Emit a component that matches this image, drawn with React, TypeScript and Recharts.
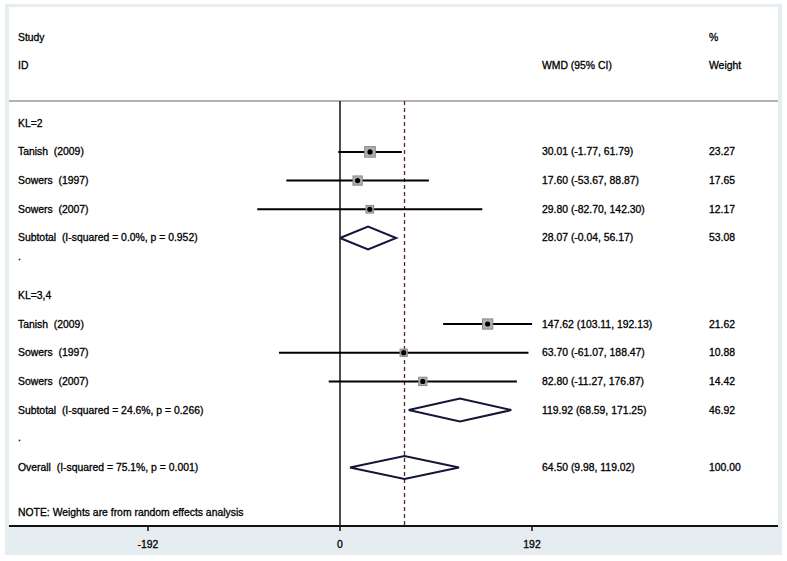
import React from 'react';
import { ComposedChart, Scatter, XAxis, YAxis, ReferenceLine } from 'recharts';

// study rows
const studyNames = ['Tanish  (2009)', 'Sowers  (1997)', 'Sowers  (2007)', 'Tanish  (2009)', 'Sowers  (1997)', 'Sowers  (2007)'];
const studyRows = [4, 5, 6, 10, 11, 12];
const studyEst = [30.01, 17.6, 29.8, 147.62, 63.7, 82.8];
const studyLo = [-1.77, -53.67, -82.7, 103.11, -61.07, -11.27];
const studyHi = [61.79, 88.87, 142.3, 192.13, 188.47, 176.87];
const studyWeight = [23.27, 17.65, 12.17, 21.62, 10.88, 14.42];

// subgroups
const groupNames = ['KL=2', 'KL=3,4'];
const groupRows = [3, 9];
const subNames = ['Subtotal  (I-squared = 0.0%, p = 0.952)', 'Subtotal  (I-squared = 24.6%, p = 0.266)'];
const subRows = [7, 13];
const subEst = [28.07, 119.92];
const subLo = [-0.04, 68.59];
const subHi = [56.17, 171.25];
const subWeight = [53.08, 46.92];
const dotRows = [7.63, 13.97];

// overall
const overallName = 'Overall  (I-squared = 75.1%, p = 0.001)';
const overallRow = 15;
const overallEst = 64.5;
const overallLo = 9.98;
const overallHi = 119.02;
const overallWeight = 100.0;

const noteText = 'NOTE: Weights are from random effects analysis';
const noteRow = 16.56;
const xTicks = [-192, 0, 192];

const FONT = '"Liberation Sans", Arial, sans-serif';
const LABEL_X = -322;
const WMD_X = 202;
const WEIGHT_X = 369;
const HEADER_LINE = 2.23;
const Y_MAX = 17.04;
const DIAMOND_H = 0.4;

const fmt = (v: number) => v.toFixed(2);

const TextShape = (props: any) => (
  <text
    x={props.cx}
    y={props.cy}
    dominantBaseline="central"
    fontFamily={FONT}
    fontSize={10.4}
    fill="#000"
    stroke="#000"
    strokeWidth={0.3}
    style={{ whiteSpace: 'pre' }}
  >
    {props.payload.text}
  </text>
);

const BoxShape = (props: any) => {
  const s = 2.2 * Math.sqrt(props.payload.w);
  return (
    <g>
      <rect x={props.cx - s / 2} y={props.cy - s / 2} width={s} height={s} fill="#b0b0b0" stroke="#8a8a8a" strokeWidth={1} />
      <circle cx={props.cx} cy={props.cy} r={2.6} fill="#000" />
    </g>
  );
};

const Empty = () => <g />;

const diamond = (est: number, lo: number, hi: number, row: number) => [
  { x: lo, y: row },
  { x: est, y: row - DIAMOND_H },
  { x: hi, y: row },
  { x: est, y: row + DIAMOND_H },
  { x: lo, y: row },
];

export default function App() {
  const leftText = [
    { x: LABEL_X, y: 0, text: 'Study' },
    { x: LABEL_X, y: 1, text: 'ID' },
    ...groupNames.map((t, i) => ({ x: LABEL_X, y: groupRows[i], text: t })),
    ...studyNames.map((t, i) => ({ x: LABEL_X, y: studyRows[i], text: t })),
    ...subNames.map((t, i) => ({ x: LABEL_X, y: subRows[i], text: t })),
    ...dotRows.map((r) => ({ x: LABEL_X, y: r, text: '.' })),
    { x: LABEL_X, y: overallRow, text: overallName },
    { x: LABEL_X, y: noteRow, text: noteText },
  ];
  const wmdText = [
    { x: WMD_X, y: 1, text: 'WMD (95% CI)' },
    ...studyEst.map((e, i) => ({ x: WMD_X, y: studyRows[i], text: `${fmt(e)} (${fmt(studyLo[i])}, ${fmt(studyHi[i])})` })),
    ...subEst.map((e, i) => ({ x: WMD_X, y: subRows[i], text: `${fmt(e)} (${fmt(subLo[i])}, ${fmt(subHi[i])})` })),
    { x: WMD_X, y: overallRow, text: `${fmt(overallEst)} (${fmt(overallLo)}, ${fmt(overallHi)})` },
  ];
  const weightText = [
    { x: WEIGHT_X, y: 0, text: '%' },
    { x: WEIGHT_X, y: 1, text: 'Weight' },
    ...studyWeight.map((w, i) => ({ x: WEIGHT_X, y: studyRows[i], text: fmt(w) })),
    ...subWeight.map((w, i) => ({ x: WEIGHT_X, y: subRows[i], text: fmt(w) })),
    { x: WEIGHT_X, y: overallRow, text: fmt(overallWeight) },
  ];
  const boxes = studyEst.map((e, i) => ({ x: e, y: studyRows[i], w: studyWeight[i] }));

  return (
    <div style={{ position: 'absolute', left: 0, top: 0, width: 787, height: 561, background: '#fff' }}>
      <div style={{ position: 'absolute', left: 5, top: 4, width: 777, height: 551, background: '#e6edf0' }} />
      <div style={{ position: 'absolute', left: 9, top: 7, width: 769, height: 519, background: '#fff' }} />
      <div style={{ position: 'absolute', left: 0, top: 0 }}>
        <ComposedChart width={787} height={561} margin={{ top: 7, left: 9, right: 9, bottom: 0 }}>
          <XAxis
            type="number"
            dataKey="x"
            domain={[-331, 438]}
            allowDataOverflow
            ticks={xTicks}
            tickSize={5}
            tickMargin={10}
            axisLine={{ stroke: '#111', strokeWidth: 2 }}
            tickLine={{ stroke: '#111', strokeWidth: 1.5 }}
            tick={{ fill: '#000', fontSize: 10.4, fontFamily: FONT, stroke: '#000', strokeWidth: 0.3 }}
            height={35}
          />
          <YAxis type="number" dataKey="y" domain={[-1.05, Y_MAX]} reversed hide allowDataOverflow />
          <ReferenceLine y={HEADER_LINE} stroke="#9a9a9a" strokeWidth={1.5} />
          <ReferenceLine
            segment={[{ x: 0, y: HEADER_LINE }, { x: 0, y: Y_MAX }]}
            stroke="#111"
            strokeWidth={1.5}
          />
          <ReferenceLine
            segment={[{ x: overallEst, y: HEADER_LINE }, { x: overallEst, y: Y_MAX }]}
            stroke="#5a2424"
            strokeWidth={1.3}
            strokeDasharray="4 3"
          />
          {studyEst.map((_, i) => (
            <Scatter
              key={'ci' + i}
              data={[{ x: studyLo[i], y: studyRows[i] }, { x: studyHi[i], y: studyRows[i] }]}
              line={{ stroke: '#000', strokeWidth: 2 }}
              shape={Empty}
              isAnimationActive={false}
              legendType="none"
            />
          ))}
          {subEst.map((e, i) => (
            <Scatter
              key={'sub' + i}
              data={diamond(e, subLo[i], subHi[i], subRows[i])}
              line={{ stroke: '#15153a', strokeWidth: 2, fill: 'none' }}
              shape={Empty}
              isAnimationActive={false}
              legendType="none"
            />
          ))}
          <Scatter
            data={diamond(overallEst, overallLo, overallHi, overallRow)}
            line={{ stroke: '#15153a', strokeWidth: 2, fill: 'none' }}
            shape={Empty}
            isAnimationActive={false}
            legendType="none"
          />
          <Scatter data={boxes} shape={BoxShape} isAnimationActive={false} legendType="none" />
          <Scatter data={leftText} shape={TextShape} isAnimationActive={false} legendType="none" />
          <Scatter data={wmdText} shape={TextShape} isAnimationActive={false} legendType="none" />
          <Scatter data={weightText} shape={TextShape} isAnimationActive={false} legendType="none" />
        </ComposedChart>
      </div>
    </div>
  );
}
